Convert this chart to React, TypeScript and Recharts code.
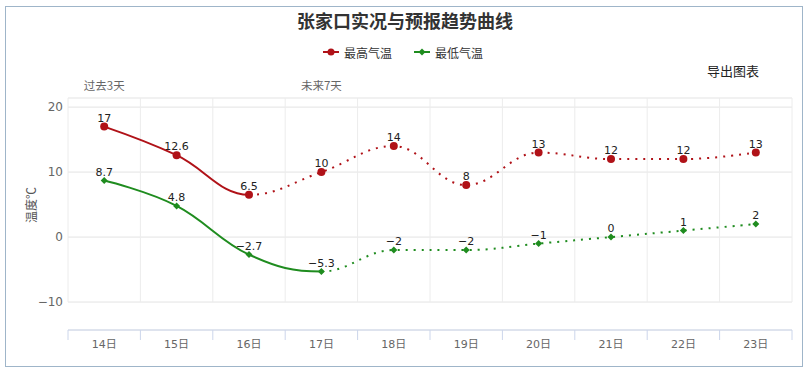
import React from 'react';
import { LineChart, Line, XAxis, YAxis, CartesianGrid, ReferenceLine, LabelList } from 'recharts';

const days = ['14日', '15日', '16日', '17日', '18日', '19日', '20日', '21日', '22日', '23日'];
const maxTemps = [17, 12.6, 6.5, 10, 14, 8, 13, 12, 12, 13];
const minTemps = [8.7, 4.8, -2.7, -5.3, -2, -2, -1, 0, 1, 2];
const maxLastObserved = 2; // index of last observed (solid) point
const minLastObserved = 3;
const periodLabels = ['过去3天', '未来7天'];
const periodStarts = [0, 3];
const yTicks = [-10, 0, 10, 20];
const yDomain = [-14.3, 21.4];

const RED = '#b01218';
const GREEN = '#1f8c1f';
const FONT = '"DejaVu Sans", "Noto Sans CJK SC", sans-serif';
const CJK = '"Noto Sans CJK SC", sans-serif';

const data = days.map((d, i) => ({ x: i + 0.5, day: d, hi: maxTemps[i], lo: minTemps[i] }));
const boundaries = days.map((_, i) => i).concat([days.length]);
const bottomTicks = boundaries.concat(days.map((_, i) => i + 0.5)).sort((a, b) => a - b);

const fmt = (v: number) => (v < 0 ? '\u2212' + Math.abs(v) : String(v));

function splineControls(pts: number[][], i: number) {
  const [x, y] = pts[i];
  const prev = pts[i - 1];
  const next = pts[i + 1];
  if (!prev || !next) return { lx: x, ly: y, rx: x, ry: y };
  const s = 1.5, d = 2.5;
  let lx = (s * x + prev[0]) / d, ly = (s * y + prev[1]) / d;
  let rx = (s * x + next[0]) / d, ry = (s * y + next[1]) / d;
  let corr = 0;
  if (rx !== lx) corr = ((ry - ly) * (rx - x)) / (rx - lx) + y - ry;
  ly += corr; ry += corr;
  if (ly > prev[1] && ly > y) { ly = Math.max(prev[1], y); ry = 2 * y - ly; }
  else if (ly < prev[1] && ly < y) { ly = Math.min(prev[1], y); ry = 2 * y - ly; }
  if (ry > next[1] && ry > y) { ry = Math.max(next[1], y); ly = 2 * y - ry; }
  else if (ry < next[1] && ry < y) { ry = Math.min(next[1], y); ly = 2 * y - ry; }
  return { lx, ly, rx, ry };
}

function makeSpline(from: number, to: number) {
  return (context: any) => {
    let pts: number[][] = [];
    return {
      areaStart() {},
      areaEnd() {},
      lineStart() { pts = []; },
      point(x: number, y: number) { pts.push([+x, +y]); },
      lineEnd() {
        const n = pts.length;
        if (!n) return;
        const ctrl = pts.map((_, i) => splineControls(pts, i));
        const start = Math.max(0, from);
        const end = Math.min(n - 1, to);
        context.moveTo(pts[start][0], pts[start][1]);
        for (let i = start + 1; i <= end; i++) {
          const a = ctrl[i - 1], b = ctrl[i];
          context.bezierCurveTo(a.rx, a.ry, b.lx, b.ly, pts[i][0], pts[i][1]);
        }
      },
    };
  };
}

const hiSolid = makeSpline(0, maxLastObserved);
const hiDotted = makeSpline(maxLastObserved, days.length - 1);
const loSolid = makeSpline(0, minLastObserved);
const loDotted = makeSpline(minLastObserved, days.length - 1);

const BottomTick = (props: any) => {
  const { x, y, payload } = props;
  const v = payload.value;
  if (Number.isInteger(v)) {
    return <line x1={x} x2={x} y1={y} y2={y + 10} stroke="#ccd6eb" strokeWidth={1} />;
  }
  return (
    <text x={x} y={y + 18} textAnchor="middle" fill="#666" fontSize={11} fontFamily={FONT}>
      {days[Math.floor(v)]}
    </text>
  );
};

const RedDot = (props: any) => {
  const { cx, cy, index } = props;
  if (cx == null || cy == null) return <g key={index} />;
  return <circle key={index} cx={cx} cy={cy} r={4} fill={RED} />;
};

const GreenDot = (props: any) => {
  const { cx, cy, index } = props;
  if (cx == null || cy == null) return <g key={index} />;
  const r = 3.5;
  return (
    <polygon
      key={index}
      points={`${cx},${cy - r} ${cx + r},${cy} ${cx},${cy + r} ${cx - r},${cy}`}
      fill={GREEN}
    />
  );
};

export default function App() {
  return (
    <div style={{ position: 'absolute', left: 0, top: 0, width: 810, height: 370, background: '#fff' }}>
      <div
        style={{
          position: 'absolute', left: 5, top: 6, width: 798, height: 361,
          border: '1px solid #9fb5c9', boxSizing: 'border-box',
        }}
      />
      <div
        style={{
          position: 'absolute', left: 0, top: 8, width: 810, textAlign: 'center',
          fontFamily: CJK, fontSize: 18, fontWeight: 'bold', color: '#333', lineHeight: '24px',
        }}
      >
        张家口实况与预报趋势曲线
      </div>
      <div style={{ position: 'absolute', left: 323, top: 44, height: 16, display: 'flex', alignItems: 'center', fontFamily: CJK, fontSize: 12, color: '#333' }}>
        <svg width={16} height={10} style={{ marginRight: 5 }}>
          <line x1={0} x2={16} y1={5} y2={5} stroke={RED} strokeWidth={2} />
          <circle cx={8} cy={5} r={3.5} fill={RED} />
        </svg>
        <span>最高气温</span>
        <svg width={16} height={10} style={{ marginLeft: 22, marginRight: 5 }}>
          <line x1={0} x2={16} y1={5} y2={5} stroke={GREEN} strokeWidth={2} />
          <polygon points="8,1.5 11.5,5 8,8.5 4.5,5" fill={GREEN} />
        </svg>
        <span>最低气温</span>
      </div>
      <div style={{ position: 'absolute', left: 707, top: 62, fontFamily: CJK, fontSize: 13, color: '#222', lineHeight: '18px' }}>
        导出图表
      </div>
      <div
        style={{
          position: 'absolute', left: 30, top: 205, transform: 'translate(-50%, -50%) rotate(-90deg)',
          fontFamily: CJK, fontSize: 12, color: '#555', whiteSpace: 'nowrap',
        }}
      >
        温度℃
      </div>
      <div style={{ position: 'absolute', left: 0, top: 0 }}>
        <LineChart width={810} height={370} data={data} margin={{ top: 68, right: 18, bottom: 10, left: 8 }}>
          <CartesianGrid vertical={false} stroke="#e3e3e3" />
          {boundaries.map((b) => (
            <ReferenceLine
              key={'v' + b}
              segment={[{ x: b, y: yTicks[0] }, { x: b, y: yDomain[1] }]}
              stroke="#ececec"
              strokeWidth={1}
            />
          ))}
          <XAxis
            type="number"
            dataKey="x"
            domain={[0, days.length]}
            ticks={bottomTicks}
            interval={0}
            allowDataOverflow
            height={30}
            tickSize={0}
            tickMargin={0}
            tickLine={false}
            axisLine={{ stroke: '#ccd6eb' }}
            tick={<BottomTick />}
          />
          <XAxis
            xAxisId="top"
            orientation="top"
            type="number"
            dataKey="x"
            domain={[0, days.length]}
            ticks={periodStarts.map((s) => s + 0.5)}
            interval={0}
            allowDataOverflow
            height={30}
            tickSize={0}
            tickMargin={8}
            tickLine={false}
            axisLine={false}
            tickFormatter={(v: number) => periodLabels[periodStarts.indexOf(v - 0.5)]}
            tick={{ fill: '#666', fontSize: 11.5, fontFamily: CJK }}
          />
          <YAxis
            type="number"
            domain={yDomain}
            ticks={yTicks}
            allowDataOverflow
            width={60}
            tickSize={0}
            tickMargin={5}
            tickLine={false}
            axisLine={false}
            tickFormatter={fmt}
            tick={{ fill: '#666', fontSize: 12, fontFamily: FONT }}
          />
          <Line dataKey="hi" type={hiSolid as any} stroke={RED} strokeWidth={2} dot={false} activeDot={false} isAnimationActive={false} />
          <Line dataKey="hi" type={hiDotted as any} stroke={RED} strokeWidth={2} strokeDasharray="2 6" dot={<RedDot />} activeDot={false} isAnimationActive={false}>
            <LabelList dataKey="hi" position="top" offset={5} formatter={fmt as any} fill="#222" fontSize={11} fontFamily={FONT} />
          </Line>
          <Line dataKey="lo" type={loSolid as any} stroke={GREEN} strokeWidth={2} dot={false} activeDot={false} isAnimationActive={false} />
          <Line dataKey="lo" type={loDotted as any} stroke={GREEN} strokeWidth={2} strokeDasharray="2 6" dot={<GreenDot />} activeDot={false} isAnimationActive={false}>
            <LabelList dataKey="lo" position="top" offset={5} formatter={fmt as any} fill="#222" fontSize={11} fontFamily={FONT} />
          </Line>
        </LineChart>
      </div>
    </div>
  );
}
